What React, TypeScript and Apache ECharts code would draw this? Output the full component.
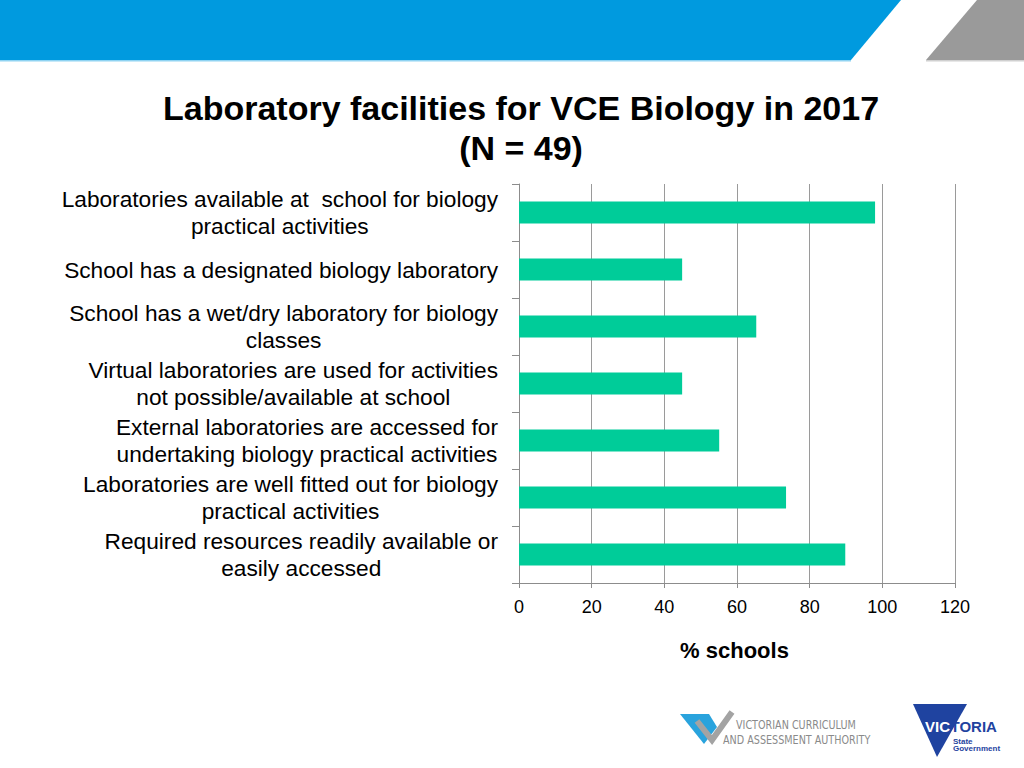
import React, { useEffect, useRef } from "react";
import * as echarts from "echarts";

const categories: string[] = [
  "Laboratories available at  school for biology\npractical activities",
  "School has a designated biology laboratory",
  "School has a wet/dry laboratory for biology\nclasses",
  "Virtual laboratories are used for activities\nnot possible/available at school",
  "External laboratories are accessed for\nundertaking biology practical activities",
  "Laboratories are well fitted out for biology\npractical activities",
  "Required resources readily available or\neasily accessed",
];

const percentSchools: number[] = [98.0, 44.9, 65.3, 44.9, 55.1, 73.5, 89.8];

const titleLines: string[] = ["Laboratory facilities for VCE Biology in 2017", "(N = 49)"];
const xAxisName = "% schools";
const xMin = 0;
const xMax = 120;
const xInterval = 20;

const FONT = "'Liberation Sans', Arial, Helvetica, sans-serif";
const NARROW = "'Liberation Sans Narrow', 'DejaVu Sans Condensed', 'Liberation Sans', sans-serif";

export default function App() {
  const ref = useRef<HTMLDivElement>(null);

  useEffect(() => {
    if (!ref.current) return;
    const chart = echarts.init(ref.current, undefined, { renderer: "svg" });

    const option: any = {
      animation: false,
      backgroundColor: "#ffffff",
      grid: { left: 519, right: 69, top: 184, bottom: 185, containLabel: false },
      xAxis: {
        type: "value",
        min: xMin,
        max: xMax,
        interval: xInterval,
        name: xAxisName,
        nameLocation: "middle",
        nameGap: 56,
        nameTextStyle: { fontFamily: FONT, fontSize: 22, fontWeight: "bold", color: "#000", padding: [0, 5, 0, 0] },
        axisLine: { show: true, lineStyle: { color: "#8c8c8c", width: 1 } },
        axisTick: { show: true, length: 5, lineStyle: { color: "#8c8c8c" } },
        axisLabel: { fontFamily: FONT, fontSize: 18, color: "#000", margin: 15 },
        splitLine: { show: true, lineStyle: { color: "#9a9a9a", width: 1 } },
      },
      yAxis: {
        type: "category",
        inverse: true,
        data: categories,
        axisLine: { show: true, lineStyle: { color: "#8c8c8c", width: 1 } },
        axisTick: { show: true, length: 7, lineStyle: { color: "#8c8c8c" } },
        splitLine: { show: false },
        axisLabel: {
          interval: 0,
          margin: 21,
          align: "right",
          formatter: (v: string) => v.split("\n").map((l) => `{c|${l}}`).join("\n"),
          rich: {
            c: { align: "center", fontFamily: FONT, fontSize: 22.7, lineHeight: 27, color: "#000" },
          },
        },
      },
      series: [
        {
          type: "bar",
          data: percentSchools,
          barWidth: 22,
          itemStyle: { color: "#00CC99" },
        },
      ],
      graphic: [
        // header band
        { type: "polygon", shape: { points: [[0, 0], [901, 0], [851, 60], [0, 60]] }, style: { fill: "#009ADF" }, silent: true },
        { type: "rect", shape: { x: 0, y: 60, width: 851, height: 1.5 }, style: { fill: "#8fd3f2" }, silent: true },
        { type: "polygon", shape: { points: [[977, 0], [1024, 0], [1024, 60], [926, 60]] }, style: { fill: "#9a9a9a" }, silent: true },
        { type: "rect", shape: { x: 926, y: 60, width: 98, height: 1.5 }, style: { fill: "#d0d0d0" }, silent: true },
        // title
        { type: "text", x: 521, y: 108, style: { text: titleLines[0], fontFamily: FONT, fontSize: 34, fontWeight: "bold", fill: "#000", align: "center", verticalAlign: "middle" } },
        { type: "text", x: 521, y: 148, style: { text: titleLines[1], fontFamily: FONT, fontSize: 34, fontWeight: "bold", fill: "#000", align: "center", verticalAlign: "middle" } },
        // VCAA logo
        { type: "polygon", shape: { points: [[680, 714], [709, 714], [717, 727], [704, 744]] }, style: { fill: "#29a3dd" }, silent: true },
        { type: "polyline", shape: { points: [[697, 721], [712, 740], [732, 712]] }, style: { stroke: "#a3a3a3", lineWidth: 6, fill: "none" }, silent: true },
        { type: "text", x: 736, y: 725, scaleX: 0.93, style: { text: "VICTORIAN CURRICULUM", fontFamily: NARROW, fontSize: 11.5, fill: "#8a8a8a", align: "left", verticalAlign: "middle" } },
        { type: "text", x: 723, y: 740, scaleX: 0.93, style: { text: "AND ASSESSMENT AUTHORITY", fontFamily: NARROW, fontSize: 11.5, fill: "#8a8a8a", align: "left", verticalAlign: "middle" } },
        // Victoria State Government logo
        { type: "polygon", shape: { points: [[913, 704], [967, 704], [937, 757]] }, style: { fill: "#1f43a0" }, silent: true },
        { type: "text", x: 925, y: 726, style: { text: "VIC", fontFamily: FONT, fontSize: 15, fontWeight: "bold", fill: "#ffffff", align: "left", verticalAlign: "middle" } },
        { type: "text", x: 950.5, y: 726, style: { text: "TORIA", fontFamily: FONT, fontSize: 15, fontWeight: "bold", fill: "#1f43a0", align: "left", verticalAlign: "middle" } },
        { type: "text", x: 953, y: 741, style: { text: "State", fontFamily: FONT, fontSize: 8, fontWeight: "bold", fill: "#1f43a0", align: "left", verticalAlign: "middle" } },
        { type: "text", x: 953, y: 748, style: { text: "Government", fontFamily: FONT, fontSize: 8, fontWeight: "bold", fill: "#1f43a0", align: "left", verticalAlign: "middle" } },
      ],
    };

    chart.setOption(option);
    return () => chart.dispose();
  }, []);

  return (
    <div
      ref={ref}
      style={{ position: "absolute", left: 0, top: 0, width: 1024, height: 768 }}
    />
  );
}
